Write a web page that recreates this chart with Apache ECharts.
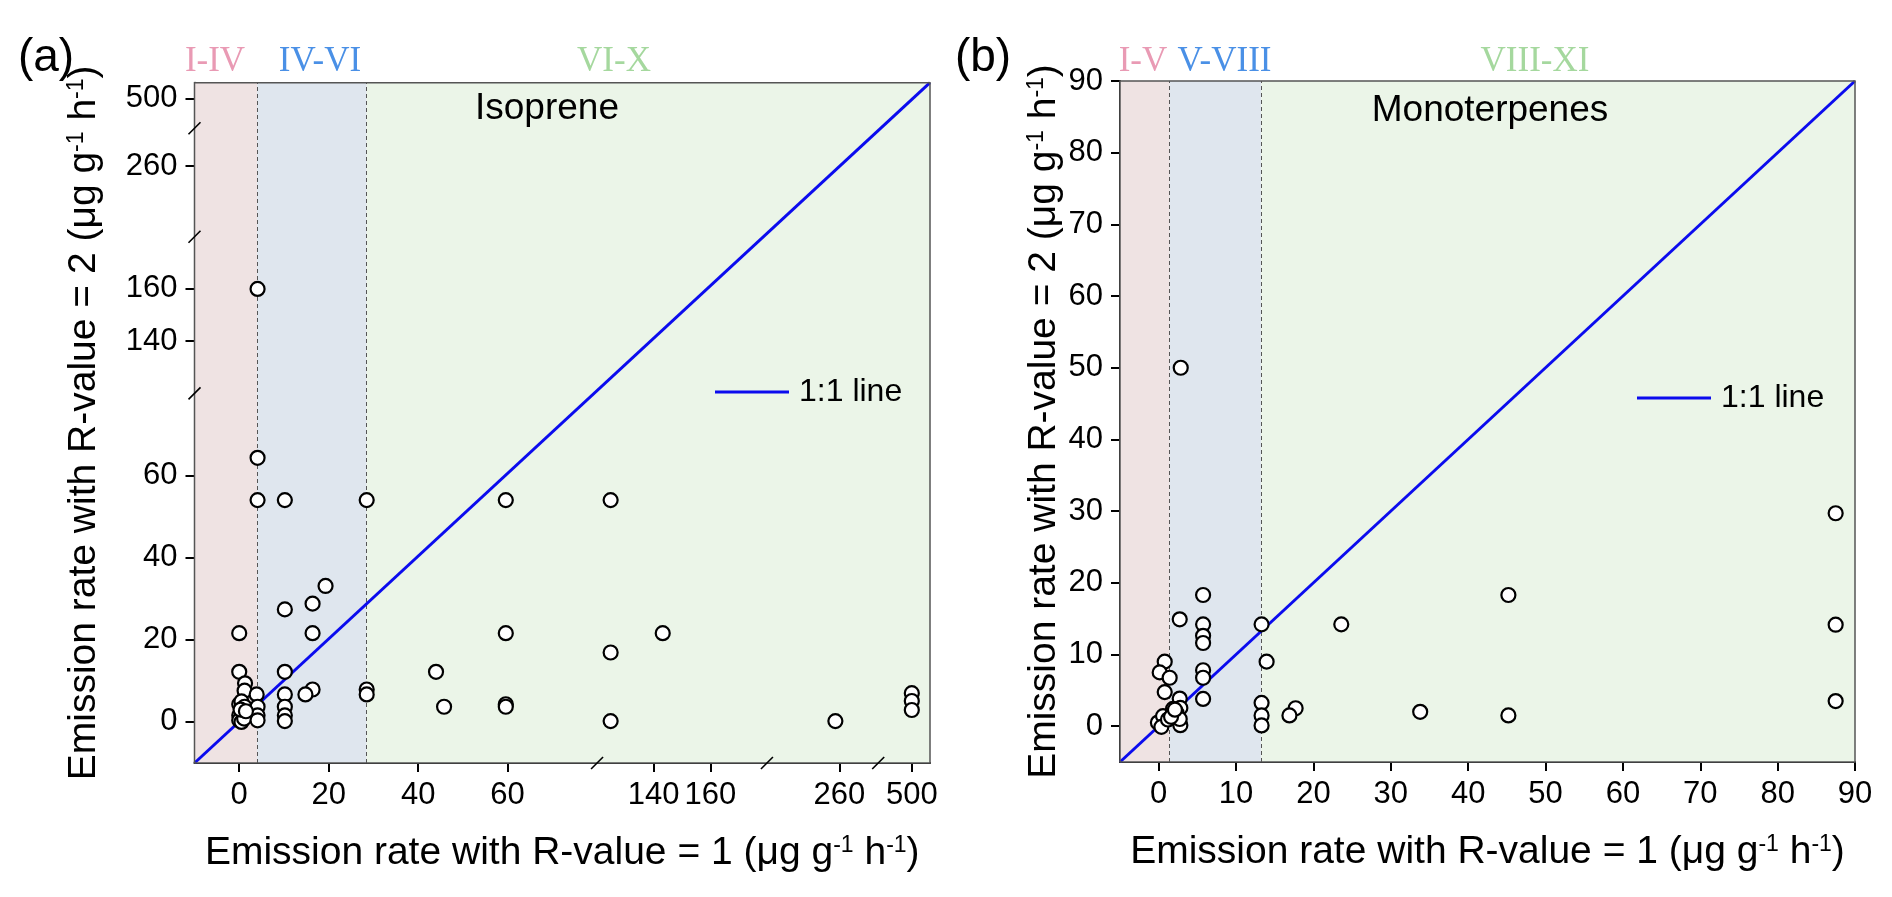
<!DOCTYPE html>
<html>
<head>
<meta charset="utf-8">
<script src="https://cdn.jsdelivr.net/npm/echarts@6.0.0/dist/echarts.min.js"></script>
<style>
html,body{margin:0;padding:0;background:#fff;}
#c{width:1892px;height:897px;}
</style>
</head>
<body>
<div id="c"></div>
<script>
// ================= DATA =================
// Panel (a) Isoprene — broken axes (same value segments on x and y)
const isoTicks = [0, 20, 40, 60, 140, 160, 260, 500];
const isoSegments = [[-10, 80], [120, 180], [234, 274], [488, 506.5]];
const isoX = [4.1, 4.1, 4.1, 10.2, 28.5, 59.6, 124.8, 19.3, 16.4, 10.2,
              0, 16.4, 59.6, 143.2, 124.8, 0, 10.2, 44.0, 1.3, 1.2,
              3.9, 10.2, 16.4, 14.8, 28.5, 28.5, 45.8, 59.6, 59.6, 10.2,
              10.2, 10.2, 124.8, 258.6, 500, 500, 500,
              0, 0.5, 1.2, 0, 0.9, 0, 0.5, 1.1, 4.1, 4.1, 4.1, 0.3, 1.5];
const isoY = [160, 64.3, 54.0, 54.0, 54.0, 54.0, 54.0, 33.1, 28.8, 27.4,
              21.6, 21.6, 21.6, 21.6, 16.9, 12.2, 12.2, 12.2, 9.4, 7.6,
              6.7, 6.7, 7.9, 6.7, 7.9, 6.7, 3.7, 4.3, 3.7, 3.7,
              1.6, 0.2, 0.2, 0.2, 7.0, 5.1, 2.9,
              4.3, 5.0, 3.7, 1.6, 2.0, 0.4, 0.0, 0.8, 3.7, 1.6, 0.4, 3.0, 2.6];
const isoBands = [4.0, 28.5];
const isoBandNames = ['I-IV', 'IV-VI', 'VI-X'];

// Panel (b) Monoterpenes
const monoTicks = [0, 10, 20, 30, 40, 50, 60, 70, 80, 90];
const monoRange = [-5, 90];
const monoX = [2.85, 5.74, 2.72, 5.74, 5.74, 5.74, 13.3, 23.6, 45.2, 87.5,
               87.5, 87.5, 45.2, 13.95, 0.78, 0.13, 1.42, 0.78, 5.74, 5.74,
               5.74, 2.72, 2.8, 13.3, 13.3, 13.3, 17.7, 16.9, 33.8, -0.1,
               0.56, 0.35, 1.2, 1.85, 2.3, 2.8, 2.72, 1.6, 2.1];
const monoY = [50.0, 18.3, 14.9, 14.2, 12.6, 11.6, 14.2, 14.2, 18.3, 29.7,
               14.15, 3.5, 1.5, 9.0, 9.0, 7.5, 6.75, 4.75, 7.8, 6.75,
               3.8, 3.85, 2.55, 3.25, 1.5, 0.1, 2.5, 1.5, 2.0, 0.5,
               1.4, -0.1, 0.93, 2.4, 1.87, 0.14, 1.0, 1.3, 2.3];
const monoBands = [1.42, 13.25];
const monoBandNames = ['I-V', 'V-VIII', 'VIII-XI'];

// ================= LAYOUT / STYLE =================
const isoXFrac = [0.5473, 0.2310, 0.1513, 0.0704];
const isoYFrac = [0.5434, 0.2302, 0.1594, 0.0670];
const sans = "'Liberation Sans', Arial, sans-serif";
const serif = "'Liberation Serif', 'Times New Roman', serif";
const bandColors = ['#EFE3E3', '#DFE6EE', '#EBF5E8'];
const bandTextColors = ['#E99AB4', '#4A90E6', '#A5D89E'];
const lineBlue = '#0B0BEE';

function makeMap(segs, fracs) {
  const starts = []; let acc = 0;
  fracs.forEach(f => { starts.push(acc); acc += f; });
  return function (v) {
    for (let i = 0; i < segs.length; i++) {
      const a = segs[i][0], b = segs[i][1];
      if (v <= b || i === segs.length - 1) {
        const vv = Math.max(v, a);
        return 1000 * (starts[i] + fracs[i] * (vv - a) / (b - a));
      }
    }
  };
}
function breakTs(fracs) {
  const out = []; let acc = 0;
  for (let i = 0; i < fracs.length - 1; i++) { acc += fracs[i]; out.push(acc * 1000); }
  return out;
}
function labeler(ticks, f) {
  return function (val) {
    let best = ticks[0], d = Infinity;
    ticks.forEach(v => { const dd = Math.abs(f(v) - val); if (dd < d) { d = dd; best = v; } });
    return String(best);
  };
}
const fxA = makeMap(isoSegments, isoXFrac);
const fyA = makeMap(isoSegments, isoYFrac);
const idB = v => v;

const nameRich = {
  sup: { fontSize: 23, fontFamily: sans, color: '#000', padding: [0, 0, 15, 0] }
};
function axisBase(extra) {
  return Object.assign({
    type: 'value',
    splitLine: { show: false },
    axisLine: { show: true, onZero: false, lineStyle: { color: '#000', width: 2 } },
    nameLocation: 'middle',
    nameTextStyle: { fontSize: 39, fontFamily: sans, color: '#000', rich: nameRich }
  }, extra);
}
function ticksCfg(vals, fmt) {
  return {
    axisTick: { show: true, customValues: vals, length: 9, lineStyle: { color: '#000', width: 2 } },
    axisLabel: { show: true, customValues: vals, formatter: fmt, fontSize: 31, fontFamily: sans, color: '#000', margin: 17 }
  };
}

const xNameA = 'Emission rate with R-value = 1 (μg g{sup|-1} h{sup|-1})';
const yNameA = 'Emission rate with R-value = 2 (μg g{sup|-1} h{sup|-1})';

const xAxes = [
  axisBase(Object.assign({ gridIndex: 0, min: 0, max: 1000, name: xNameA, nameGap: 71 },
    ticksCfg(isoTicks.map(fxA), labeler(isoTicks, fxA)))),
  axisBase(Object.assign({ gridIndex: 1, min: monoRange[0], max: monoRange[1], name: xNameA, nameGap: 71 },
    ticksCfg(monoTicks, labeler(monoTicks, idB))))
];
const yAxes = [
  axisBase(Object.assign({ gridIndex: 0, min: 0, max: 1000, name: yNameA, nameGap: 91 },
    ticksCfg(isoTicks.map(fyA), labeler(isoTicks, fyA)))),
  axisBase(Object.assign({ gridIndex: 1, min: monoRange[0], max: monoRange[1], name: yNameA, nameGap: 56 },
    ticksCfg(monoTicks, labeler(monoTicks, idB))))
];

function bandMarkers(bounds, lo, hi) {
  const edges = [lo].concat(bounds).concat([hi]);
  return {
    markArea: {
      silent: true, z: 1,
      data: bandColors.map((c, i) => [{ xAxis: edges[i], itemStyle: { color: c } }, { xAxis: edges[i + 1] }])
    },
    markLine: {
      silent: true, z: 1.5, symbol: ['none', 'none'], label: { show: false },
      lineStyle: { type: [4, 3], color: '#555', width: 1 },
      data: bounds.map(b => ({ xAxis: b }))
    }
  };
}

function oneLine(idx, p0, p1, bounds, lo, hi) {
  return Object.assign({
    type: 'line', name: '1:1 line', xAxisIndex: idx, yAxisIndex: idx, z: 2,
    symbol: 'none', showSymbol: false, silent: true,
    lineStyle: { color: lineBlue, width: 3 }, itemStyle: { color: lineBlue },
    data: [p0, p1]
  }, bandMarkers(bounds, lo, hi));
}
function points(idx, xs, ys, fx, fy) {
  return {
    type: 'scatter', name: 'pts' + idx, xAxisIndex: idx, yAxisIndex: idx, z: 4,
    symbol: 'circle', symbolSize: 14, silent: true,
    itemStyle: { color: '#fff', borderColor: '#000', borderWidth: 2.2, opacity: 1 },
    data: xs.map((x, i) => [fx(x), fy(ys[i])])
  };
}
function slashItem(params, api) {
  const p = api.coord([api.value(0), api.value(1)]);
  return { type: 'line', shape: { x1: p[0] - 6, y1: p[1] + 6, x2: p[0] + 6, y2: p[1] - 6 },
           style: { stroke: '#000', lineWidth: 1.6 } };
}

const isoLo = isoSegments[0][0], isoHi = isoSegments[isoSegments.length - 1][1];
const series = [
  oneLine(0, [fxA(isoLo), fyA(isoLo)], [fxA(isoHi), fyA(isoHi)],
          isoBands.map(fxA), fxA(isoLo), fxA(isoHi)),
  points(0, isoX, isoY, fxA, fyA),
  { type: 'custom', xAxisIndex: 0, yAxisIndex: 0, z: 6, silent: true, clip: false,
    renderItem: slashItem,
    data: breakTs(isoXFrac).map(t => [t, 0]).concat(breakTs(isoYFrac).map(t => [0, t])) },
  oneLine(1, [monoRange[0], monoRange[0]], [monoRange[1], monoRange[1]],
          monoBands, monoRange[0], monoRange[1]),
  points(1, monoX, monoY, idB, idB)
];

function txt(x, y, s, size, fam, color, align) {
  return { type: 'text', x: x, y: y, silent: true, z: 10,
    style: { text: s, fontSize: size, fontFamily: fam, fill: color || '#000',
             textAlign: align || 'center', textVerticalAlign: 'middle' } };
}
const isoLabelX = [215, 320, 614];
const monoLabelX = [1143, 1224.5, 1535];
const graphics = [
  txt(46, 58, '(a)', 46, sans),
  txt(983, 58, '(b)', 46, sans),
  txt(547, 109, 'Isoprene', 37, sans),
  txt(1490, 111, 'Monoterpenes', 37, sans)
].concat(isoBandNames.map((s, i) => txt(isoLabelX[i], 62, s, 35, serif, bandTextColors[i])))
 .concat(monoBandNames.map((s, i) => txt(monoLabelX[i], 62, s, 35, serif, bandTextColors[i])));

const legendBase = {
  data: ['1:1 line'], orient: 'horizontal', padding: 0, itemWidth: 74, itemHeight: 3,
  icon: 'rect', selectedMode: false,
  textStyle: { fontSize: 32, fontFamily: sans, color: '#000', padding: [0, 0, 0, 5] }
};

const chart = echarts.init(document.getElementById('c'), null, { renderer: 'canvas', width: 1892, height: 897 });
chart.setOption({
  animation: false,
  backgroundColor: '#fff',
  grid: [
    { left: 194.5, top: 82.7, width: 735.5, height: 680.3, show: true, borderColor: '#555', borderWidth: 1.5,
      backgroundColor: 'transparent', z: 5, outerBoundsMode: 'none', containLabel: false },
    { left: 1120, top: 81, width: 735, height: 681, show: true, borderColor: '#555', borderWidth: 1.5,
      backgroundColor: 'transparent', z: 5, outerBoundsMode: 'none', containLabel: false }
  ],
  xAxis: xAxes,
  yAxis: yAxes,
  legend: [
    Object.assign({ left: 715, top: 376 }, legendBase),
    Object.assign({ left: 1637, top: 382 }, legendBase)
  ],
  tooltip: { show: false },
  graphic: graphics,
  series: series
});
</script>
</body>
</html>
